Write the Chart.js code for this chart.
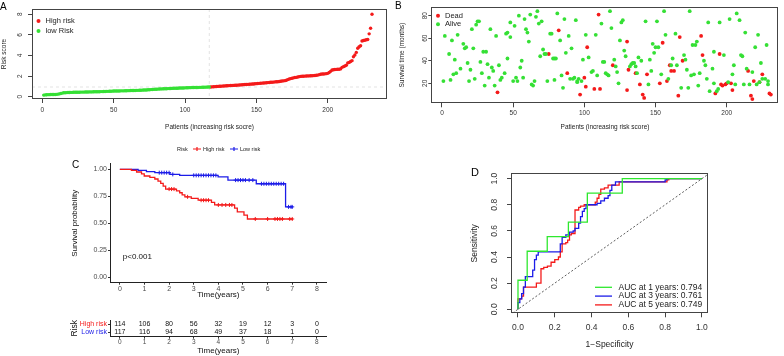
<!DOCTYPE html>
<html>
<head>
<meta charset="utf-8">
<script src="https://cdn.jsdelivr.net/npm/chart.js@4.4.1/dist/chart.umd.min.js"></script>
<style>
  body { margin: 0; background: #fff; width: 784px; height: 356px; position: relative; overflow: hidden; }
  canvas { position: absolute; }
</style>
</head>
<body>
<canvas id="cA" width="392" height="140" style="left:0;top:0"></canvas>
<canvas id="cB" width="392" height="140" style="left:392px;top:0"></canvas>
<canvas id="cC" width="392" height="160" style="left:0;top:140px"></canvas>
<canvas id="cT" width="392" height="56" style="left:0;top:300px"></canvas>
<canvas id="cD" width="392" height="216" style="left:392px;top:140px"></canvas>
<script>
// ---- panel A: sorted risk scores ----
const lowRisk = [
  0.16,0.18,0.19,0.20,0.20,0.21,0.21,0.22,0.22,0.23,
  0.25,0.28,0.31,0.35,0.38,0.39,0.40,0.41,0.41,0.42,
  0.42,0.43,0.43,0.44,0.44,0.44,0.45,0.45,0.45,0.46,
  0.46,0.46,0.47,0.47,0.47,0.48,0.48,0.48,0.49,0.49,
  0.50,0.50,0.51,0.51,0.52,0.52,0.53,0.53,0.54,0.55,
  0.55,0.55,0.56,0.56,0.57,0.57,0.57,0.58,0.58,0.59,
  0.59,0.60,0.60,0.61,0.61,0.62,0.62,0.63,0.63,0.64,
  0.65,0.66,0.66,0.67,0.68,0.69,0.70,0.71,0.72,0.73,
  0.74,0.75,0.76,0.76,0.77,0.78,0.78,0.79,0.80,0.80,
  0.81,0.82,0.82,0.83,0.83,0.84,0.84,0.85,0.85,0.86,
  0.87,0.87,0.88,0.88,0.89,0.89,0.90,0.90,0.90,0.91,
  0.91,0.92,0.92,0.93,0.93,0.94,0.94
];
const highRisk = [
  0.95,0.96,0.97,0.98,0.99,1.00,1.01,1.02,1.03,1.04,
  1.05,1.06,1.07,1.08,1.09,1.10,1.10,1.11,1.12,1.13,
  1.14,1.15,1.16,1.17,1.18,1.19,1.20,1.21,1.22,1.23,
  1.24,1.26,1.27,1.29,1.30,1.31,1.32,1.33,1.34,1.35,
  1.37,1.38,1.40,1.41,1.42,1.44,1.45,1.46,1.48,1.50,
  1.52,1.54,1.56,1.60,1.66,1.72,1.76,1.80,1.83,1.86,
  1.88,1.92,1.95,1.97,1.98,1.99,2.00,2.01,2.02,2.02,
  2.03,2.04,2.05,2.06,2.08,2.10,2.14,2.18,2.20,2.21,
  2.22,2.24,2.27,2.35,2.46,2.60,2.62,2.64,2.65,2.66,
  2.67,2.70,2.85,2.92,2.98,3.05,3.28,3.33,3.42,3.50,
  3.88,4.05,4.30,4.70,4.85,4.95,5.40,5.45,5.48,5.52,
  5.55,6.10,6.65,8.00
];
const riskCutoff = 0.945;
const patientTicks = [0, 50, 100, 150, 200];
const scoreTicks = [0, 2, 4, 6, 8];

// ---- panel B: survival status ----
const aliveIdx = [1,2,5,6,7,8,9,10,11,13,15,16,17,18,19,20,21,22,23,24,25,26,27,28,29,30,31,32,33,34,35,36,37,38,40,41,42,44,45,46,46,48,48,50,51,52,53,54,55,56,57,58,59,60,61,62,63,64,65,66,67,68,69,70,71,72,73,74,76,77,78,79,80,79,81,83,84,85,86,87,89,90,91,92,93,94,95,95,96,98,99,101,103,105,106,108,109,112,113,114,115,116,117,118,119,121,122,123,124,125,126,127,128,129,132,133,134,135,136,137,138,140,143,145,146,147,148,149,150,151,152,154,156,157,159,161,162,164,165,168,170,171,172,173,174,175,176,177,178,179,180,181,184,185,186,187,188,190,191,191,193,194,195,198,201,202,204,205,206,207,209,210,211,212,213,214,216,218,220,221,222,223,224,225,227,228,229,229];
const aliveMonths = [22,62,46,23,58,28,41,29,63,33,55,51,52,38,22,32,68,51,24,72,75,75,39,29,48,18,48,37,25,68,34,31,18,62,36,23,25,29,64,42,65,74,61,22,71,25,22,80,34,40,25,77,68,65,57,81,19,18,22,79,84,73,44,75,50,46,46,22,64,64,42,42,42,23,82,58,27,16,77,47,62,24,51,24,25,76,22,21,24,22,41,63,43,30,31,63,27,73,39,39,29,28,27,84,69,41,35,30,20,58,74,76,49,44,35,37,38,38,35,29,43,40,75,19,41,31,55,47,52,75,52,28,84,63,24,36,42,64,36,16,45,41,32,16,84,27,54,28,54,57,18,29,40,36,24,74,13,33,20,48,13,15,74,45,21,77,28,36,19,82,76,45,44,19,65,33,19,30,52,19,63,21,38,24,24,54,19,22];
const deadIdx = [39,75,82,88,97,100,101,102,107,110,111,120,130,130,131,136,139,141,142,144,153,155,158,160,161,163,166,167,169,182,183,192,195,196,197,199,200,203,204,215,217,218,219,223,225,230,231];
const deadMonths = [12,46,67,29,10,25,17,52,15,81,15,36,57,14,32,29,19,10,7,28,20,56,22,36,31,31,9,61,40,62,45,11,46,19,18,19,20,20,14,31,9,6,22,21,28,11,10];
const monthTicks = [20, 40, 60, 80];

// ---- panel C: Kaplan-Meier by risk group ----
const kmHighT = [0,0.47,0.68,0.88,0.99,1.22,1.42,1.55,1.66,1.76,1.86,2.30,2.43,2.53,2.64,2.90,3.18,3.72,3.85,4.66,4.77,5.04,5.18,7.03];
const kmHighS = [1,0.99,0.975,0.957,0.938,0.925,0.91,0.89,0.87,0.845,0.817,0.80,0.783,0.764,0.745,0.73,0.714,0.693,0.67,0.64,0.605,0.575,0.54,0.54];
const kmLowT = [0,0.74,1.08,1.42,2.03,2.43,3.99,4.39,5.54,6.73,7.03];
const kmLowS = [1,0.99,0.978,0.969,0.953,0.944,0.93,0.90,0.866,0.652,0.652];
const censorHigh = [2.0,2.1,2.2,2.75,3.3,3.4,3.5,3.6,4.0,4.15,4.3,4.45,4.55,5.5,6.0,6.3,6.4,6.5,6.6,6.9,7.0];
const censorLow = [1.6,1.7,1.8,1.9,2.0,2.15,3.0,3.1,3.2,3.3,3.4,3.5,3.6,3.7,3.8,3.9,4.7,4.8,4.9,5.0,5.1,5.25,5.4,5.75,5.85,5.95,6.05,6.15,6.25,6.35,6.45,6.55,6.65,6.85,6.95,7.0];
const yearTicks = [0,1,2,3,4,5,6,7,8];
const survTicks = [0, 0.25, 0.5, 0.75, 1];
const riskGroups = ['High risk', 'Low risk'];
const atRiskHigh = [114,106,80,56,32,19,12,3,0];
const atRiskLow = [117,116,94,68,49,37,18,1,0];

// ---- panel D: time-dependent ROC ----
const roc1Fpr = [0,0,0.05,0.159,0.274,0.377,0.567,1.0];
const roc1Tpr = [0,0.222,0.444,0.556,0.667,0.889,1.0,1.0];
const roc3Fpr = [0,0,0.01,0.02,0.03,0.04,0.08,0.09,0.10,0.11,0.23,0.24,0.26,0.28,0.30,0.31,0.33,0.34,0.35,0.36,0.37,0.43,0.45,0.47,0.49,0.50,0.51,0.53,0.80,0.81,1.0];
const roc3Tpr = [0,0.05,0.08,0.12,0.17,0.25,0.30,0.38,0.415,0.44,0.50,0.55,0.57,0.59,0.60,0.62,0.66,0.71,0.75,0.77,0.80,0.81,0.83,0.85,0.87,0.91,0.95,0.975,0.99,1.0,1.0];
const roc5Fpr = [0,0,0.02,0.03,0.10,0.125,0.14,0.16,0.18,0.20,0.22,0.23,0.24,0.26,0.27,0.28,0.29,0.31,0.33,0.34,0.36,0.42,0.43,0.44,0.45,0.47,0.49,0.55,0.81,0.82,1.0];
const roc5Tpr = [0,0.08,0.10,0.17,0.20,0.31,0.32,0.33,0.36,0.38,0.40,0.44,0.50,0.51,0.53,0.57,0.58,0.76,0.78,0.79,0.80,0.82,0.85,0.88,0.92,0.93,0.95,0.975,0.99,1.0,1.0];
const rocLabels = ['AUC at 1 years: 0.794', 'AUC at 3 years: 0.761', 'AUC at 5 years: 0.749'];
const unitTicks = [0, 0.2, 0.4, 0.6, 0.8, 1.0];

const FONT = '"Liberation Sans", Arial, Helvetica, sans-serif';
Chart.defaults.font.family = FONT;
Chart.defaults.color = '#333';
Chart.defaults.animation = false;
Chart.defaults.responsive = false;
Chart.defaults.plugins.legend.display = false;
Chart.defaults.plugins.tooltip.enabled = false;

const RED = '#f41a1a', GREEN = '#35e035', BLUE = '#1c1ce8';
const GREEN_D = '#2ee82e';

const fixed = list => s => { s.ticks = list.map(v => ({ value: v })); };
const xy = (xs, ys) => xs.map((x, i) => ({ x: x, y: ys[i] }));

// R base-graphics style: box, rotated y tick labels, panel letter
function rStyle(o) {
  return {
    id: 'rstyle',
    beforeDatasetsDraw(chart) {
      if (o.before) o.before(chart);
    },
    afterDraw(chart) {
      const { ctx, chartArea: a, scales } = chart;
      ctx.save();
      ctx.strokeStyle = '#444';
      ctx.lineWidth = 1;
      ctx.strokeRect(Math.round(a.left) + 0.5, Math.round(a.top) + 0.5,
        Math.round(a.right - a.left) - 1, Math.round(a.bottom - a.top) - 1);
      ctx.fillStyle = '#333';
      ctx.font = o.tickSize + 'px ' + FONT;
      ctx.textAlign = 'center';
      ctx.textBaseline = 'middle';
      scales.y.ticks.forEach(t => {
        ctx.save();
        ctx.translate(o.labelX, scales.y.getPixelForValue(t.value));
        ctx.rotate(-Math.PI / 2);
        ctx.fillText(o.fmt(t.value), 0, 0);
        ctx.restore();
      });
      ctx.fillStyle = '#000';
      ctx.font = o.letterSize + 'px ' + FONT;
      ctx.textAlign = 'left';
      ctx.textBaseline = 'top';
      ctx.fillText(o.letter, o.letterX, o.letterY);
      if (o.after) o.after(chart);
      ctx.restore();
    }
  };
}

function dotLegend(ctx, items, x, y0, gap, size) {
  ctx.save();
  ctx.font = size + 'px ' + FONT;
  ctx.textBaseline = 'middle';
  ctx.textAlign = 'left';
  items.forEach((it, i) => {
    const y = y0 + i * gap;
    ctx.fillStyle = it.color;
    ctx.beginPath();
    ctx.arc(x, y, 2, 0, Math.PI * 2);
    ctx.fill();
    ctx.fillStyle = '#222';
    ctx.fillText(it.text, x + 7, y);
  });
  ctx.restore();
}

function rAxis(min, max, ticks, size, extra) {
  return Object.assign({
    type: 'linear', min: min, max: max,
    afterBuildTicks: fixed(ticks),
    grid: { drawOnChartArea: false, tickLength: 4, color: '#444' },
    border: { display: false },
    ticks: { font: { size: size }, color: '#333', maxRotation: 0, minRotation: 0 }
  }, extra);
}

// Panel A
new Chart(document.getElementById('cA'), {
  type: 'scatter',
  data: {
    datasets: [
      { data: lowRisk.map((v, i) => ({ x: i + 1, y: v })), backgroundColor: GREEN, borderWidth: 0, pointRadius: 1.7 },
      { data: highRisk.map((v, i) => ({ x: lowRisk.length + i + 1, y: v })), backgroundColor: RED, borderWidth: 0, pointRadius: 1.7 }
    ]
  },
  options: {
    layout: { padding: { top: 9, right: 5, left: 0, bottom: 0 } },
    scales: {
      x: rAxis(-7.2, 241.5, patientTicks, 6.5, {
        afterFit: s => { s.height = 41; },
        ticks: { font: { size: 6.5 }, color: '#333', maxRotation: 0, padding: 3 },
        title: { display: true, text: 'Patients (increasing risk socre)', font: { size: 6.5 }, color: '#222', padding: { top: 0, bottom: 9 } }
      }),
      y: rAxis(-0.22, 8.51, scoreTicks, 6.5, {
        afterFit: s => { s.width = 32; },
        ticks: { display: false },
        title: { display: true, text: 'Risk score', font: { size: 6.5 }, color: '#222', padding: { top: 0.5, bottom: 0 } }
      })
    }
  },
  plugins: [rStyle({
    tickSize: 6.5, labelX: 20, fmt: v => String(v), letter: 'A', letterX: 0, letterY: 2, letterSize: 10,
    before(chart) {
      const { ctx, chartArea: a, scales } = chart;
      ctx.save();
      ctx.strokeStyle = '#dcdcdc';
      ctx.lineWidth = 0.8;
      ctx.setLineDash([3, 3]);
      const px = scales.x.getPixelForValue(lowRisk.length);
      const py = scales.y.getPixelForValue(riskCutoff);
      ctx.beginPath();
      ctx.moveTo(px, a.top); ctx.lineTo(px, a.bottom);
      ctx.moveTo(a.left, py); ctx.lineTo(a.right, py);
      ctx.stroke();
      ctx.restore();
      dotLegend(ctx, [{ text: 'High risk', color: RED }, { text: 'low Risk', color: GREEN }], 38.5, 21, 10, 7.5);
    }
  })]
});

// Panel B
new Chart(document.getElementById('cB'), {
  type: 'scatter',
  data: {
    datasets: [
      { data: xy(aliveIdx, aliveMonths), backgroundColor: GREEN, borderWidth: 0, pointRadius: 1.9 },
      { data: xy(deadIdx, deadMonths), backgroundColor: RED, borderWidth: 0, pointRadius: 1.9 }
    ]
  },
  options: {
    layout: { padding: { top: 7, right: 5.3, left: 0, bottom: 0 } },
    scales: {
      x: rAxis(-7.5, 236.5, patientTicks, 6.5, {
        afterFit: s => { s.height = 36.7; },
        ticks: { font: { size: 6.5 }, color: '#333', maxRotation: 0, padding: 2 },
        title: { display: true, text: 'Patients (increasing risk score)', font: { size: 6.5 }, color: '#222', padding: { top: 0, bottom: 8.4 } }
      }),
      y: rAxis(2.25, 87.7, monthTicks, 6.5, {
        afterFit: s => { s.width = 39.3; },
        grid: { drawOnChartArea: false, tickLength: 3, color: '#444' },
        ticks: { display: false },
        title: { display: true, text: 'Survival time (months)', font: { size: 6.5 }, color: '#222', padding: { top: 6, bottom: 0 } }
      })
    }
  },
  plugins: [rStyle({
    tickSize: 6.5, labelX: 33.3, fmt: v => String(v), letter: 'B', letterX: 3, letterY: 1, letterSize: 10,
    before(chart) {
      dotLegend(chart.ctx, [{ text: 'Dead', color: RED }, { text: 'Alive', color: GREEN }], 46, 15.7, 8.6, 7.5);
    }
  })]
});

// Panel C: KM curves
const stepAt = (T, S, t) => { let s = S[0]; T.forEach((v, i) => { if (v <= t) s = S[i]; }); return s; };
new Chart(document.getElementById('cC'), {
  type: 'scatter',
  data: {
    datasets: [
      { data: xy(kmHighT, kmHighS), showLine: true, stepped: 'before', borderColor: RED, borderWidth: 1.3, pointRadius: 0 },
      { data: xy(kmLowT, kmLowS), showLine: true, stepped: 'before', borderColor: BLUE, borderWidth: 1.3, pointRadius: 0 },
      { data: censorHigh.map(t => ({ x: t, y: stepAt(kmHighT, kmHighS, t) })), pointStyle: 'cross', pointRadius: 2, borderColor: RED, borderWidth: 1 },
      { data: censorLow.map(t => ({ x: t, y: stepAt(kmLowT, kmLowS, t) })), pointStyle: 'cross', pointRadius: 2, borderColor: BLUE, borderWidth: 1 }
    ]
  },
  options: {
    layout: { padding: { top: 23.9, right: 65.3, left: 68, bottom: 0 } },
    scales: {
      x: {
        type: 'linear', min: -0.4, max: 8.4, afterBuildTicks: fixed(yearTicks),
        afterFit: s => { s.height = 17.3; },
        grid: { drawOnChartArea: false, tickLength: 2, color: '#333' },
        border: { display: true, color: '#222', width: 1 },
        ticks: { font: { size: 7 }, color: '#4d4d4d', padding: 0, maxRotation: 0 },
        title: { display: true, text: 'Time(years)', font: { size: 8 }, color: '#111', padding: { top: 0, bottom: 0 } }
      },
      y: {
        type: 'linear', min: -0.05, max: 1.05, afterBuildTicks: fixed(survTicks),
        afterFit: s => { s.width = 42; },
        grid: { drawOnChartArea: false, tickLength: 2, color: '#333' },
        border: { display: true, color: '#222', width: 1 },
        ticks: { font: { size: 7 }, color: '#4d4d4d', padding: 1, callback: v => v.toFixed(2) },
        title: { display: true, text: 'Survival probability', font: { size: 8 }, color: '#111', padding: { top: 2.2, bottom: 0 } }
      }
    }
  },
  plugins: [{
    id: 'kmtext',
    afterDraw(chart) {
      const { ctx, scales } = chart;
      ctx.save();
      ctx.fillStyle = '#111';
      ctx.font = '8px ' + FONT;
      ctx.textBaseline = 'middle';
      ctx.fillText('p<0.001', scales.x.getPixelForValue(0.12), scales.y.getPixelForValue(0.19));
      ctx.font = '10px ' + FONT;
      ctx.textBaseline = 'top';
      ctx.fillStyle = '#000';
      ctx.fillText('C', 72, 20);
      // legend on top
      ctx.font = '5.5px ' + FONT;
      ctx.textBaseline = 'middle';
      ctx.fillStyle = '#222';
      ctx.fillText('Risk', 177, 9);
      [[RED, 'High risk', 193], [BLUE, 'Low risk', 230]].forEach(([c, t, x]) => {
        ctx.strokeStyle = c;
        ctx.lineWidth = 1.2;
        ctx.beginPath();
        ctx.moveTo(x, 9); ctx.lineTo(x + 8, 9);
        ctx.moveTo(x + 4, 7); ctx.lineTo(x + 4, 11);
        ctx.stroke();
        ctx.fillText(t, x + 10, 9);
      });
      ctx.restore();
    }
  }]
});

// Panel C: number at risk table
new Chart(document.getElementById('cT'), {
  type: 'scatter',
  data: { datasets: [] },
  options: {
    layout: { padding: { top: 20, right: 65.3, left: 68, bottom: 0 } },
    scales: {
      x: {
        type: 'linear', min: -0.4, max: 8.4, afterBuildTicks: fixed(yearTicks),
        afterFit: s => { s.height = 19.3; },
        grid: { drawOnChartArea: false, tickLength: 2, color: '#333' },
        border: { display: true, color: '#222', width: 1 },
        ticks: { font: { size: 6.5 }, color: '#4d4d4d', padding: 0, maxRotation: 0 },
        title: { display: true, text: 'Time(years)', font: { size: 8 }, color: '#111', padding: { top: 0, bottom: 0 } }
      },
      y: {
        type: 'category', labels: riskGroups, offset: true,
        afterFit: s => { s.width = 42; },
        grid: { drawOnChartArea: false, tickLength: 2, color: '#333', offset: false },
        border: { display: true, color: '#222', width: 1 },
        ticks: { font: { size: 7 }, padding: 1, autoSkip: false, color: c => (c.index === 0 ? RED : BLUE) },
        title: { display: true, text: 'Risk', font: { size: 8.5 }, color: '#111', padding: { top: 2, bottom: 0 } }
      }
    }
  },
  plugins: [{
    id: 'atrisk',
    afterDraw(chart) {
      const { ctx, scales } = chart;
      ctx.save();
      ctx.fillStyle = '#111';
      ctx.font = '7px ' + FONT;
      ctx.textAlign = 'center';
      ctx.textBaseline = 'middle';
      [atRiskHigh, atRiskLow].forEach((row, r) => {
        row.forEach((n, i) => {
          ctx.fillText(String(n), scales.x.getPixelForValue(yearTicks[i]), scales.y.getPixelForValue(r));
        });
      });
      ctx.restore();
    }
  }]
});

// Panel D: ROC
new Chart(document.getElementById('cD'), {
  type: 'scatter',
  data: {
    datasets: [
      { data: [{ x: -0.1, y: -0.1 }, { x: 1.1, y: 1.1 }], showLine: true, borderColor: '#333', borderWidth: 0.8, borderDash: [2, 2], pointRadius: 0 },
      { data: xy(roc1Fpr, roc1Tpr), showLine: true, stepped: 'before', borderColor: GREEN_D, borderWidth: 1.3, pointRadius: 0 },
      { data: xy(roc3Fpr, roc3Tpr), showLine: true, stepped: 'before', borderColor: BLUE, borderWidth: 1.3, pointRadius: 0 },
      { data: xy(roc5Fpr, roc5Tpr), showLine: true, stepped: 'before', borderColor: RED, borderWidth: 1.3, pointRadius: 0 }
    ]
  },
  options: {
    layout: { padding: { top: 33.3, right: 76, left: 0, bottom: 0 } },
    scales: {
      x: rAxis(-0.038, 1.033, unitTicks, 8.5, {
        afterFit: s => { s.height = 42.7; },
        ticks: { font: { size: 8.5 }, color: '#333', maxRotation: 0, padding: 5, callback: v => v.toFixed(1) },
        title: { display: true, text: '1\u2212Specificity', font: { size: 8.5 }, color: '#222', padding: { top: 0, bottom: 5.9 } }
      }),
      y: rAxis(-0.031, 1.041, unitTicks, 8.5, {
        afterFit: s => { s.width = 119; },
        ticks: { display: false },
        title: { display: true, text: 'Sensitivity', font: { size: 8.5 }, color: '#222', padding: { top: 78, bottom: 0 } }
      })
    }
  },
  plugins: [rStyle({
    tickSize: 8.5, labelX: 103, fmt: v => v.toFixed(1), letter: 'D', letterX: 79, letterY: 27, letterSize: 11,
    after(chart) {
      const ctx = chart.ctx;
      ctx.font = '8.5px ' + FONT;
      ctx.textAlign = 'left';
      ctx.textBaseline = 'middle';
      [GREEN_D, BLUE, RED].forEach((c, i) => {
        const y = 147.3 + i * 8.8;
        ctx.strokeStyle = c;
        ctx.lineWidth = 1.3;
        ctx.beginPath();
        ctx.moveTo(203, y); ctx.lineTo(220, y);
        ctx.stroke();
        ctx.fillStyle = '#222';
        ctx.fillText(rocLabels[i], 226.5, y);
      });
    }
  })]
});
</script>
</body>
</html>
